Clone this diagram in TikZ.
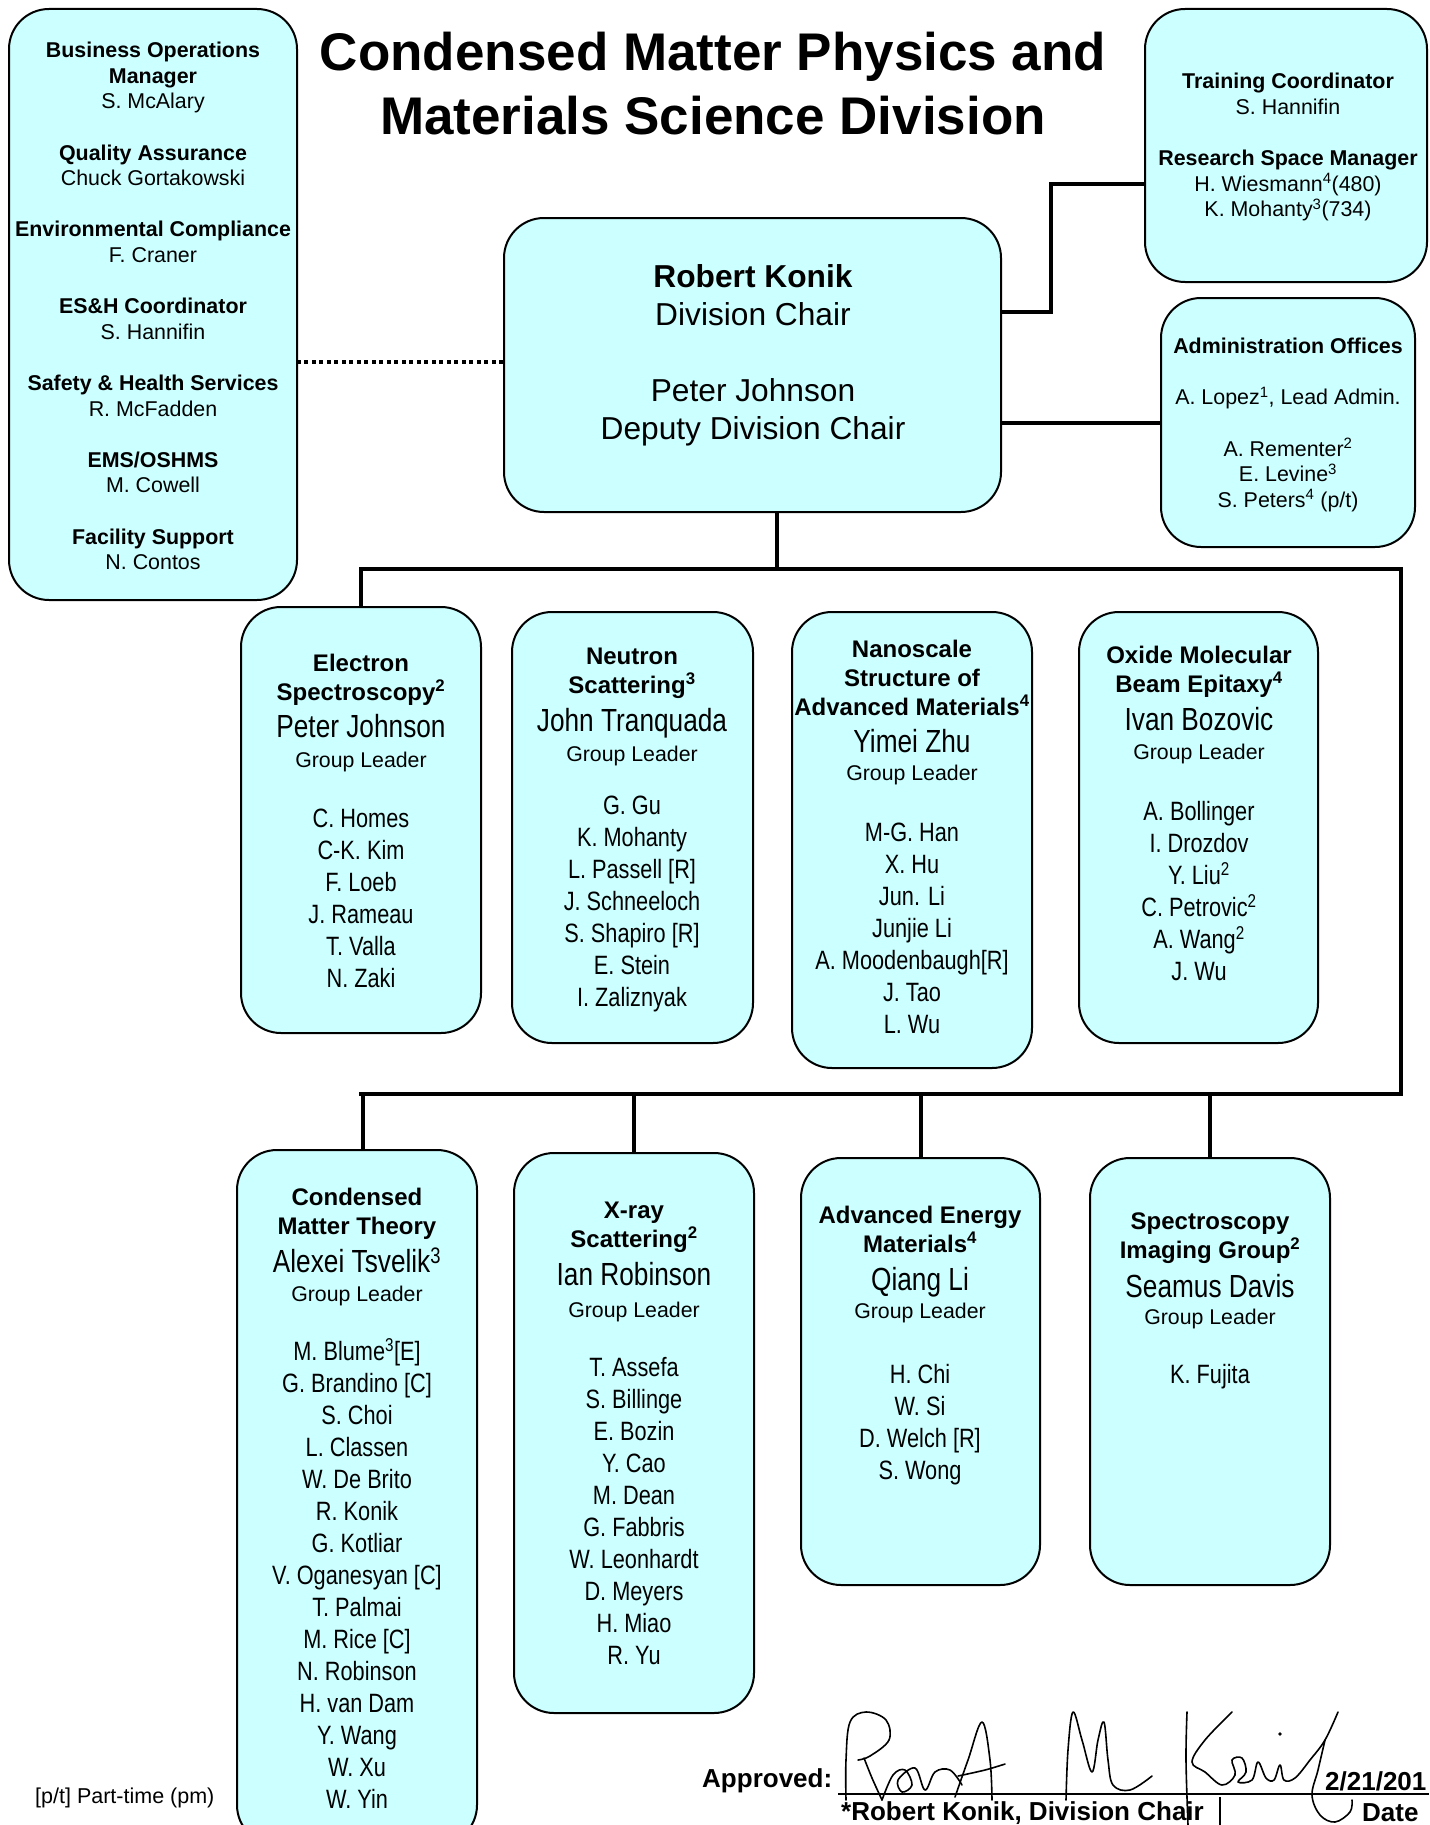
\documentclass[tikz,border=0pt]{standalone}
\usepackage{fontspec}
\setmainfont{Liberation Sans}
\newfontfamily\narrowfont[FakeStretch=0.82]{Liberation Sans}
\definecolor{boxfill}{RGB}{204,255,255}
\newcommand\fs[2]{\fontsize{#1pt}{#2pt}\selectfont}
\newcommand\sups[1]{\textsuperscript{#1}}
\pgfdeclarelayer{bg}
\pgfsetlayers{bg,main}
\tikzset{
 box/.style={draw=black, line width=2pt, fill=boxfill, rounded corners=40pt, inner sep=0pt},
 conn/.style={line width=4pt, line cap=rect},
 dotline/.style={line width=4pt, dash pattern=on 4pt off 3.5pt},
 txt/.style={inner sep=0pt, align=center, anchor=north},
 hdf/.style={txt, font=\bfseries\fs{24}{29}},
 ldf/.style={txt, font=\narrowfont\fs{32}{38}},
 glf/.style={txt, font=\fs{21.3}{25.6}},
 memf/.style={txt, font=\narrowfont\fs{26.5}{32}},
 smallf/.style={txt, font=\fs{21.4}{25.6}},
 footf/.style={inner sep=0pt, anchor=west, font=\bfseries\fs{26}{30}},
 sig/.style={line width=1.6pt, line cap=round, line join=round},
}
\newcommand\mkbox[5]{%
 \pgfmathsetmacro\mbW{#4-#2}\pgfmathsetmacro\mbH{#5-#3}%
 \pgfmathsetmacro\mbX{(#2+#4)/2}\pgfmathsetmacro\mbY{(#3+#5)/2}%
 \node[box, minimum width=\mbW pt, minimum height=\mbH pt] (#1) at (\mbX,\mbY) {};}
\newcommand\grp[9]{%
 \node[hdf] (#1h) at (#2,#3-9) {#7};
 \node[ldf] (#1l) at (#2,#4-12) {#8};
 \node[glf] (#1g) at (#2,#5-8) {Group Leader};
 \node[memf] (#1m) at (#2,#6-10) {#9};}
\begin{document}
\begin{tikzpicture}[x=1pt,y=-1pt]
\useasboundingbox (0,0) rectangle (1429,1825);
\begin{pgfonlayer}{bg}
\fill[white] (0,0) rectangle (1429,1825);
\end{pgfonlayer}

% boxes
\mkbox{ops}{9}{9}{297}{600}
\mkbox{train}{1145}{9}{1427}{282}
\mkbox{admin}{1161}{298}{1415}{547}
\mkbox{chair}{504}{218}{1001}{512}
\mkbox{es}{241}{607}{481}{1033}
\mkbox{ns}{512}{612}{753}{1043}
\mkbox{nano}{792}{612}{1032}{1068}
\mkbox{ox}{1079}{612}{1318}{1043}
\mkbox{cmt}{237}{1150}{477}{1845}
\mkbox{xr}{514}{1153}{754}{1713}
\mkbox{aem}{801}{1158}{1040}{1585}
\mkbox{sigb}{1090}{1158}{1330}{1585}

% title
\node[txt, font=\bfseries\fs{53}{64}] (title) at (713,32)
 {Condensed Matter Physics and\\Materials Science Division};

% left box text
\node[smallf] (opstxt) at (153,42) {\textbf{Business Operations}\\\textbf{Manager}\\S. McAlary\\[25.6pt]
\textbf{Quality Assurance}\\Chuck Gortakowski\\[25.6pt]
\textbf{Environmental Compliance}\\F. Craner\\[25.6pt]
\textbf{ES\&H Coordinator}\\S. Hannifin\\[25.6pt]
\textbf{Safety \& Health Services}\\R. McFadden\\[25.6pt]
\textbf{EMS/OSHMS}\\M. Cowell\\[25.6pt]
\textbf{Facility Support}\\N. Contos};

\node[smallf] (traintxt) at (1288,73) {\textbf{Training Coordinator}\\S. Hannifin\\[25.6pt]
\textbf{Research Space Manager}\\H. Wiesmann\sups{4}(480)\\K. Mohanty\sups{3}(734)};

\node[smallf] (admintxt) at (1288,338) {\textbf{Administration Offices}\\[25.6pt]
A. Lopez\sups{1}, Lead Admin.\\[25.6pt]
A. Rementer\sups{2}\\E. Levine\sups{3}\\S. Peters\sups{4} (p/t)};

\node[txt, font=\fs{31.7}{38}] (chairtxt) at (753,264)
 {\textbf{Robert Konik}\\Division Chair\\[38pt]Peter Johnson\\Deputy Division Chair};

% groups
\grp{es}{361}{663}{726}{760}{819}{Electron\\Spectroscopy\sups{2}}{Peter Johnson}
 {C. Homes\\C-K. Kim\\F. Loeb\\J. Rameau\\T. Valla\\N. Zaki}
\grp{ns}{632}{657}{720}{754}{806}{Neutron\\Scattering\sups{3}}{John Tranquada}
 {G. Gu\\K. Mohanty\\L. Passell [R]\\J. Schneeloch\\S. Shapiro [R]\\E. Stein\\I. Zaliznyak}
\grp{nano}{912}{649}{741}{773}{833}{Nanoscale\\Structure of\\Advanced Materials\sups{4}}{Yimei Zhu}
 {M-G. Han\\X. Hu\\Jun. Li\\Junjie Li\\A. Moodenbaugh[R]\\J. Tao\\L. Wu}
\grp{ox}{1199}{655}{719}{752}{811}{Oxide Molecular\\Beam Epitaxy\sups{4}}{Ivan Bozovic}
 {A. Bollinger\\I. Drozdov\\Y. Liu\sups{2}\\C. Petrovic\sups{2}\\A. Wang\sups{2}\\J. Wu}
\grp{cmt}{357}{1197}{1260}{1294}{1348}{Condensed\\Matter Theory}{Alexei Tsvelik\sups{3}}
 {M. Blume\sups{3}[E]\\G. Brandino [C]\\S. Choi\\L. Classen\\W. De Brito\\R. Konik\\G. Kotliar\\V. Oganesyan [C]\\T. Palmai\\M. Rice [C]\\N. Robinson\\H. van Dam\\Y. Wang\\W. Xu\\W. Yin}
\grp{xr}{634}{1211}{1274}{1310}{1367}{X-ray\\Scattering\sups{2}}{Ian Robinson}
 {T. Assefa\\S. Billinge\\E. Bozin\\Y. Cao\\M. Dean\\G. Fabbris\\W. Leonhardt\\D. Meyers\\H. Miao\\R. Yu}
\grp{aem}{920}{1215}{1279}{1311}{1374}{Advanced Energy\\Materials\sups{4}}{Qiang Li}
 {H. Chi\\W. Si\\D. Welch [R]\\S. Wong}
\grp{sig}{1210}{1222}{1286}{1317}{1374}{Spectroscopy\\Imaging Group\sups{2}}{Seamus Davis}
 {K. Fujita}

% connectors
\coordinate (b1R) at (1401,569);
\coordinate (b2R) at (1401,1094);
\coordinate (b2L) at (361,1094);
\coordinate (cdown) at ([xshift=24pt]chair.south);
\coordinate (c1) at ([yshift=53pt]chair.east);
\coordinate (c2) at ([yshift=-38pt]train.west);
\coordinate (cmtc) at ([xshift=6pt]cmt.north);
\begin{pgfonlayer}{bg}
\draw[conn] (cdown) -- (cdown |- b1R);
\draw[conn] (es.north) |- (b1R) -- (b2R) -- (b2L);
\draw[conn] (cmtc) -- (cmtc |- b2L);
\draw[conn] (xr.north) -- (xr.north |- b2L);
\draw[conn] (aem.north) -- (aem.north |- b2L);
\draw[conn] (sigb.north) -- (sigb.north |- b2L);
\draw[conn] (c1) -- ++(49,0) |- (c2);
\draw[conn] (admin.west) -- (admin.west -| chair.east);
\draw[dotline] ([yshift=3pt]chair.west) -- ([yshift=3pt]chair.west -| ops.east);
\end{pgfonlayer}

% footer
\node[inner sep=0pt, anchor=west, font=\fs{21.5}{25}] (ptnote) at (35,1798) {[p/t] Part-time (pm)};
\node[footf] (appr) at (702,1781) {Approved:};
\node[footf] (signame) at (841,1813) {*Robert Konik, Division Chair};
\node[footf] (datelbl) at (1362,1813) {Date};
\node[footf] (dateval) at (1325,1781) {2/21/201};
\coordinate (sigL) at (838,1794);
\coordinate (sigR) at (1429,1794);
\draw[line width=2.5pt] (sigL) -- (sigR);
\coordinate (tickT) at (1220,1797);
\coordinate (tickB) at (1220,1825);
\draw[line width=1.5pt] (tickT) -- (tickB);

% signature
\draw[sig] plot[smooth, tension=0.6] coordinates {(846,1800) (846,1760) (850,1722) (866,1712) (886,1720) (889,1740) (870,1756) (858,1760)};
\draw[sig] plot[smooth, tension=0.6] coordinates {(864,1758) (872,1778) (882,1800)};
\draw[sig] plot[smooth, tension=0.6] coordinates {(882,1800) (893,1775) (905,1770) (912,1785) (902,1792) (898,1780) (915,1768) (925,1790) (935,1772) (950,1770) (962,1785)};
\draw[sig] plot[smooth, tension=0.6] coordinates {(955,1797) (968,1760) (982,1722) (990,1760) (992,1800)};
\draw[sig] plot[smooth, tension=0.6] coordinates {(958,1776) (985,1770) (1005,1764)};
\draw[sig] plot[smooth, tension=0.6] coordinates {(1066,1800) (1068,1750) (1073,1712) (1082,1740) (1092,1772) (1098,1740) (1104,1722) (1108,1760) (1113,1785) (1130,1790) (1152,1776)};
\draw[sig] plot[smooth, tension=0.6] coordinates {(1187,1712) (1186,1760) (1188,1825)};
\draw[sig] plot[smooth, tension=0.6] coordinates {(1232,1712) (1205,1740) (1192,1762) (1205,1772) (1222,1785) (1235,1775) (1232,1760) (1242,1758) (1246,1772) (1238,1782) (1252,1780) (1258,1762) (1266,1778) (1274,1780) (1280,1765) (1284,1780) (1295,1778) (1310,1760) (1325,1740) (1338,1712)};
\draw[sig] plot[smooth, tension=0.6] coordinates {(1325,1740) (1318,1770) (1312,1795) (1320,1815) (1335,1822) (1350,1812) (1352,1800)};
\fill (1280,1734) circle (1.8pt);
\end{tikzpicture}
\end{document}
